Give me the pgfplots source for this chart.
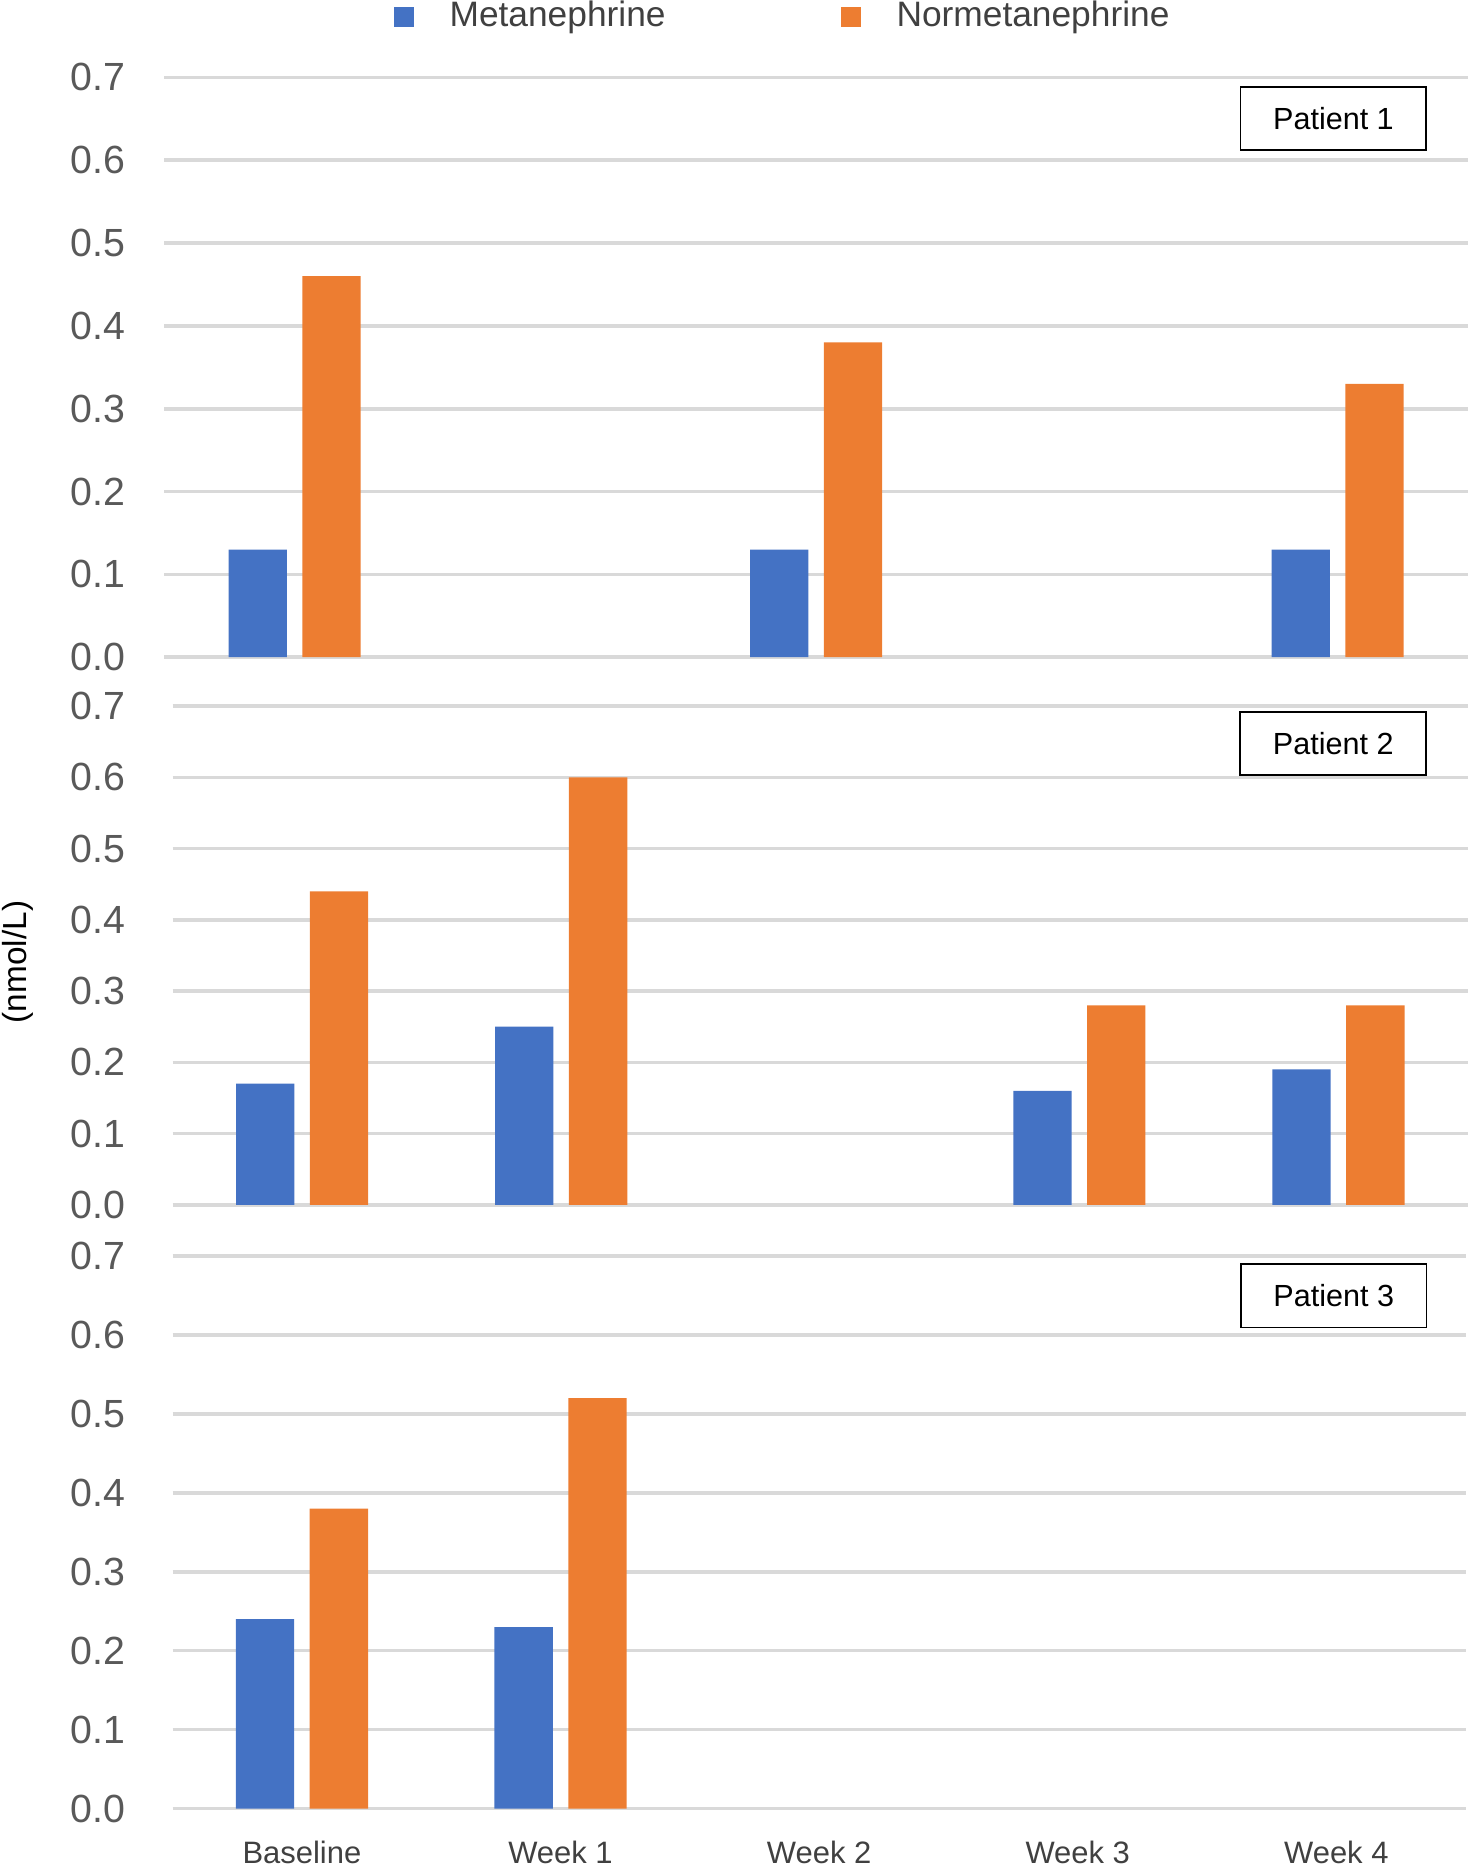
\documentclass[border=0pt]{standalone}
\usepackage{fontspec}
\setmainfont{Liberation Sans}
\usepackage{pgfplots}
\pgfplotsset{compat=1.18}
\definecolor{mblue}{HTML}{4472C4}
\definecolor{morange}{HTML}{ED7D31}
\definecolor{tickgray}{HTML}{595959}
\definecolor{textgray}{HTML}{404040}
\definecolor{gridgray}{HTML}{D9D9D9}
\pgfplotsset{
  panel/.style={
    scale only axis, anchor=south west,
    xmin=-0.5, xmax=4.5, ymin=0, ymax=0.7,
    ytick={0,0.1,0.2,0.3,0.4,0.5,0.6,0.7},
    xtick={0,1,2,3,4},
    ymajorgrids, grid style={gridgray, line width=0.9pt},
    axis line style={draw=none},
    major tick length=0pt,
    ybar, bar width=14.7pt,
    yticklabel={\pgfmathprintnumber[fixed,fixed zerofill,precision=1,assume math mode=true]{\tick}},
    yticklabel style={font=\fontsize{9.9}{11}\selectfont, text=tickgray, inner sep=0pt, anchor=east},
    clip=false,
  },
  mser/.style={fill=mblue, draw=none, bar shift=-9.3pt},
  nser/.style={fill=morange, draw=none, bar shift=9.3pt},
}
\tikzset{
  pbox/.style={draw=black, line width=0.45pt, minimum width=46.8pt, minimum height=15.9pt, inner sep=0pt, fill=white, text=black, font=\fontsize{7.7}{9}\selectfont},
}
\begin{document}
\begin{tikzpicture}
\useasboundingbox (0,0) rectangle (372pt,472.2pt);
% Panel 1
\begin{axis}[panel, at={(41.4pt,306.6pt)}, width=328.5pt, height=146.1pt,
  xticklabels={,,,,},
  yticklabel style={xshift=-9.6pt},
  legend style={at={(0.1753,1.1047)}, anchor=west, draw=none, fill=none,
    legend columns=2, font=\fontsize{8.9}{10}\selectfont, text=textgray,
    inner sep=0pt, nodes={inner sep=0pt},
    /tikz/every odd column/.append style={column sep=9pt},
    /tikz/every even column/.append style={column sep=44.1pt}},
  legend cell align=left,
  legend image code/.code={\fill (0pt,-2.55pt) rectangle (5.1pt,2.55pt);},
]
\addplot[mser] coordinates {(0,0.13) (2,0.13) (4,0.13)};
\addlegendentry{Metanephrine}
\addplot[nser] coordinates {(0,0.46) (2,0.38) (4,0.33)};
\addlegendentry{Normetanephrine}
\node[pbox] at (rel axis cs:0.8968,0.929) {Patient 1};
\end{axis}
% Panel 2
\begin{axis}[panel, at={(43.5pt,168.6pt)}, width=326.4pt, height=125.7pt,
  xticklabels={,,,,},
  yticklabel style={xshift=-11.7pt},
]
\addplot[mser] coordinates {(0,0.17) (1,0.25) (3,0.16) (4,0.19)};
\addplot[nser] coordinates {(0,0.44) (1,0.60) (3,0.28) (4,0.28)};
\node[pbox] at (rel axis cs:0.896,0.925) {Patient 2};
\end{axis}
% Panel 3
\begin{axis}[panel, at={(43.5pt,16.5pt)}, width=325.8pt, height=139.2pt,
  xticklabels={Baseline,Week 1,Week 2,Week 3,Week 4},
  xticklabel style={font=\fontsize{7.8}{9}\selectfont, text=textgray, inner sep=0pt, anchor=north, yshift=-8.1pt},
  yticklabel style={xshift=-11.7pt},
]
\addplot[mser] coordinates {(0,0.24) (1,0.23)};
\addplot[nser] coordinates {(0,0.38) (1,0.52)};
\node[pbox] at (rel axis cs:0.898,0.928) {Patient 3};
\end{axis}
\node[rotate=90, font=\fontsize{8.4}{10}\selectfont, text=black, inner sep=0pt] at (4.5pt,229.8pt) {(nmol/L)};
\end{tikzpicture}
\end{document}
